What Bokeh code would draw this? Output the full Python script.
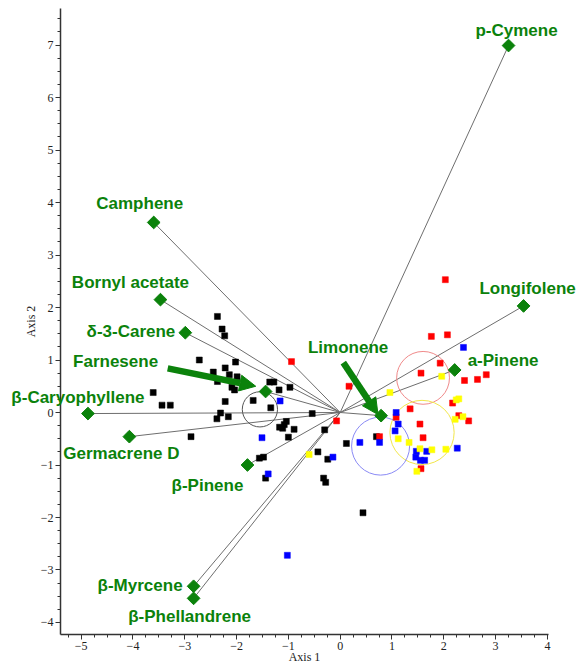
import numpy as np
from bokeh.plotting import figure
from bokeh.models import Range1d, SingleIntervalTicker, Arrow, NormalHead, Label
from bokeh.embed import file_html
from bokeh.resources import INLINE

# ---------------- data ----------------
var_names = ["p-Cymene", "Camphene", "Bornyl acetate", "δ-3-Carene", "Farnesene",
             "β-Caryophyllene", "Germacrene D", "β-Pinene", "β-Myrcene",
             "β-Phellandrene", "Limonene", "a-Pinene", "Longifolene"]
var_x = [3.25, -3.60, -3.47, -2.99, -1.44, -4.87, -4.07, -1.79, -2.83, -2.83, 0.79, 2.21, 3.54]
var_y = [6.99, 3.62, 2.15, 1.52, 0.40, -0.02, -0.46, -1.00, -3.31, -3.54, -0.06, 0.81, 2.03]

black_x = [-2.37, -2.28, -2.23, -2.72, -2.02, -2.22, -2.45, -2.14, -1.99, -2.37, -2.09, -2.04,
           -1.36, -1.28, -1.18, -0.97, -3.61, -3.44, -3.28, -2.22, -1.68, -1.34, -2.31, -2.38,
           -2.16, -2.88, -0.54, -1.04, -1.08, -1.17, -1.11, -0.89, -0.30, -1.00, -1.56, -1.48,
           -1.44, -0.43, -0.24, -0.32, -0.28, 0.12, 0.44, 0.70]
black_y = [1.83, 1.59, 1.46, 1.00, 0.96, 0.85, 0.77, 0.72, 0.68, 0.59, 0.48, 0.43,
           0.58, 0.58, 0.43, 0.48, 0.38, 0.14, 0.14, 0.21, 0.23, 0.09, -0.01, -0.12,
           -0.08, -0.46, -0.02, -0.17, -0.23, -0.28, -0.30, -0.32, -0.33, -0.47, -0.87, -0.85,
           -1.25, -0.75, -0.89, -1.25, -1.33, -0.59, -1.91, -0.46]

red_x = [-0.94, 0.17, -0.07, 2.03, 1.76, 2.07, 1.93, 1.56, 2.40, 2.65, 2.82, 1.35, 2.17,
         1.08, 2.29, 2.48, 1.54, 0.76, 1.60, 1.56]
red_y = [0.97, 0.50, -0.16, 2.53, 1.45, 1.48, 0.94, 0.75, 0.61, 0.63, 0.72, 0.07, 0.18,
         -0.09, -0.06, -0.16, -0.22, -0.46, -0.48, -1.07]

blue_x = [-1.16, -1.51, -1.39, -0.14, -1.02, 2.38, 1.08, 1.12, 1.06, 0.38, 0.76, 2.26,
          1.47, 1.67, 1.46, 1.55, 1.63]
blue_y = [0.22, -0.48, -1.17, -0.85, -2.72, 1.24, 0.00, -0.22, -0.35, -0.57, -0.57, -0.68,
          -0.74, -0.74, -0.85, -0.91, -0.91]

yellow_x = [-0.60, 0.96, 1.96, 2.29, 2.24, 2.37, 2.22, 1.12, 1.33, 2.04, 1.54, 1.77, 1.48]
yellow_y = [-0.80, 0.38, 0.69, 0.26, 0.24, -0.08, -0.13, -0.50, -0.57, -0.70, -0.69, -0.71, -1.12]

# group circles (centre and radius in axis units)
grp_cx = [-1.55, 1.60, 1.58, 0.78]
grp_cy = [0.06, 0.66, -0.38, -0.64]
grp_r = [0.34, 0.51, 0.62, 0.56]

# highlighted arrows (Farnesene, Limonene)
arr_x0 = [-3.33, 0.06]
arr_y0 = [0.84, 0.95]
arr_x1 = [-1.63, 0.73]
arr_y1 = [0.50, -0.04]

x_title = "Axis 1"
y_title = "Axis 2"

# axis extents (data units)
x_lo, x_hi = -5.4, 4.03
y_lo, y_hi = -4.23, 7.70

# ---------------- styling ----------------
GREEN = "#0b820b"
grp_colors = ["#555555", "#f08a8a", "#f2e64a", "#8a8af5"]
# label placement relative to the diamond (pixels): dx, dy(up +), align
lab_layout = [(8, 15, "center"), (-14, 19, "center"), (-30, 17, "center"), (-10, 1, "right"),
              (-150, 30, "center"), (-10, 16, "center"), (-8, -17, "center"), (-40, -20, "center"),
              (-11, 1, "right"), (-4, -18, "center"), (-33, 68, "center"), (13, 9, "left"),
              (4, 17, "center")]

# the frame covers the whole canvas; the axes are pinned at the data extents
p = figure(width=582, height=662, x_range=Range1d(-6.558, 4.678), y_range=Range1d(-4.762, 7.848),
           output_backend="svg", toolbar_location=None, min_border=0)
p.grid.visible = False
p.outline_line_color = None
p.background_fill_color = "white"
p.border_fill_color = "white"

p.xaxis.ticker = SingleIntervalTicker(interval=1, num_minor_ticks=4)
p.yaxis.ticker = SingleIntervalTicker(interval=1, num_minor_ticks=4)
p.xaxis.fixed_location = y_lo
p.yaxis.fixed_location = x_lo
p.xaxis.bounds = (x_lo, x_hi)
p.yaxis.bounds = (y_lo, y_hi)
p.xaxis.axis_label = x_title
p.yaxis.axis_label = y_title
for ax in (p.xaxis, p.yaxis):
    ax.axis_line_color = "#333333"
    ax.axis_line_width = 1.5
    ax.major_tick_line_color = "#333333"
    ax.minor_tick_line_color = "#333333"
    ax.major_tick_out = 5
    ax.major_tick_in = 0
    ax.minor_tick_out = 3
    ax.minor_tick_in = 0
    ax.major_label_text_font = "Liberation Serif"
    ax.major_label_text_font_size = "12px"
    ax.major_label_text_color = "#222222"
    ax.major_label_standoff = 2
    ax.axis_label_text_font = "Liberation Serif"
    ax.axis_label_text_font_size = "12px"
    ax.axis_label_text_font_style = "normal"
    ax.axis_label_text_color = "#222222"
    ax.axis_label_standoff = 0
p.xaxis.axis_label_standoff = -3

# vectors from the origin
p.segment(x0=[0] * len(var_x), y0=[0] * len(var_y), x1=var_x, y1=var_y,
          line_color="#6e6e6e", line_width=1)

# group circles
p.circle(x=grp_cx, y=grp_cy, radius=grp_r, fill_color=None,
         line_color=grp_colors, line_width=1)

# sample squares
for xs, ys, col in ((black_x, black_y, "#000000"), (red_x, red_y, "#ff0000"),
                    (blue_x, blue_y, "#0000ff"), (yellow_x, yellow_y, "#ffff00")):
    p.scatter(xs, ys, marker="square", size=6, fill_color=col, line_color=col, line_width=0.5)

# variable diamonds
p.scatter(var_x, var_y, marker="square", angle=np.pi / 4, size=9,
          fill_color=GREEN, line_color=GREEN)

# highlight arrows
for x0, y0, x1, y1 in zip(arr_x0, arr_y0, arr_x1, arr_y1):
    p.add_layout(Arrow(x_start=x0, y_start=y0, x_end=x1, y_end=y1,
                       line_color=GREEN, line_width=6.5,
                       end=NormalHead(size=16, fill_color=GREEN, line_color=GREEN, line_width=1)))

# labels
for name, vx, vy, (dx, dy, al) in zip(var_names, var_x, var_y, lab_layout):
    p.add_layout(Label(x=vx, y=vy, text=name, x_offset=dx, y_offset=dy,
                       text_align=al, text_baseline="middle",
                       text_font="Liberation Sans", text_font_style="bold",
                       text_font_size="17px", text_color=GREEN))

open("out.html", "w").write(file_html(p, INLINE))
